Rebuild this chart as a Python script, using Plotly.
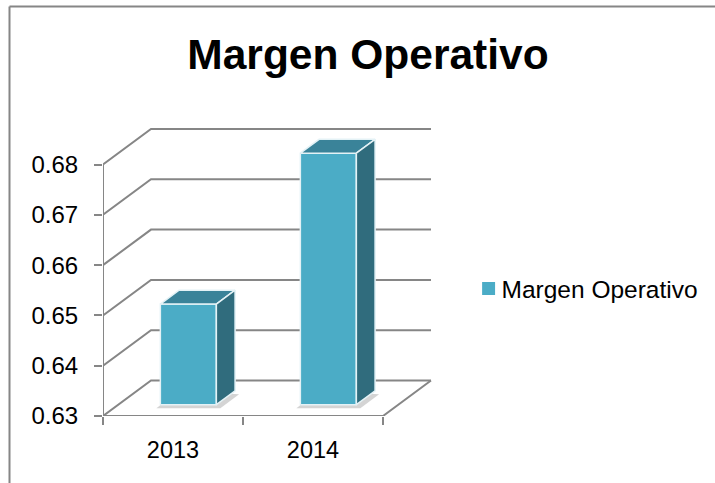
import plotly.graph_objects as go

categories = ["2013", "2014"]
values = [0.65, 0.68]
y_ticks = [0.63, 0.64, 0.65, 0.66, 0.67, 0.68]
series_name = "Margen Operativo"

# pixel geometry of the oblique projection
W, H = 715, 483
L, R, T, B = 103, 440, 118, 416
PX_CAT = 140.0
PX_UNIT = 5030.0
WALL_DX = 48.0 / PX_CAT
WALL_DY = 35.5 / PX_UNIT
FLOOR_Y = y_ticks[0]
X0, X1 = -0.5, -0.5 + (R - L) / PX_CAT
Y0, Y1 = FLOOR_Y, FLOOR_Y + (B - T) / PX_UNIT
BAR_W = 0.4
DEPTH_FRONT, DEPTH_BACK = 0.32, 0.71
GRID = "#868686"
FRONT, TOP, SIDE = "#4BACC6", "#3A8399", "#306C7D"
EDGE = "#E4F2F6"


def pr(cat, val, depth):
    """Oblique projection of a (category, value, depth 0..1) point."""
    return cat + WALL_DX * depth, val + WALL_DY * depth


def poly(points):
    xy = [pr(*p) for p in points]
    xy.append(xy[0])
    return [p[0] for p in xy], [p[1] for p in xy]


fig = go.Figure()

# walls and floor on the main axes
gx, gy = [], []
n = len(categories)
for v in y_ticks:
    a, b, c = pr(-0.5, v, 0), pr(-0.5, v, 1), pr(n - 0.5, v, 1)
    gx += [a[0], b[0], c[0], None]
    gy += [a[1], b[1], c[1], None]
a, b, c, d = pr(-0.5, y_ticks[0], 0), pr(-0.5, y_ticks[-1], 0), pr(n - 0.5, FLOOR_Y, 0), pr(n - 0.5, FLOOR_Y, 1)
gx += [b[0], a[0], c[0], d[0]]
gy += [b[1], a[1], c[1], d[1]]
fig.add_trace(go.Scatter(x=gx, y=gy, mode="lines", line=dict(color=GRID, width=2),
                         showlegend=False, hoverinfo="skip", xaxis="x", yaxis="y"))

# soft floor shadows sit under the bars, on the main axes
S_X = 4.0 / PX_CAT
S_Y = 3.5 / PX_UNIT
for i in range(n):
    l, r = i - BAR_W / 2, i + BAR_W / 2
    sx, sy = poly([(l - S_X, FLOOR_Y - S_Y, DEPTH_FRONT), (r + S_X, FLOOR_Y - S_Y, DEPTH_FRONT),
                   (r + S_X, FLOOR_Y - S_Y, DEPTH_BACK), (l, FLOOR_Y, DEPTH_BACK)])
    fig.add_trace(go.Scatter(x=sx, y=sy, mode="lines", fill="toself", fillcolor="#D4D4D4",
                             line=dict(color="rgba(0,0,0,0)", width=0), showlegend=False,
                             hoverinfo="skip", xaxis="x", yaxis="y"))

# 3D bars on the overlay axes
fx, fy = pr(0, FLOOR_Y, DEPTH_FRONT)
fig.add_trace(go.Bar(x=[i + fx for i in range(n)], y=[v - FLOOR_Y for v in values], base=fy,
                     width=BAR_W, name=series_name, showlegend=True,
                     marker=dict(color=FRONT, line=dict(color=FRONT, width=0)),
                     xaxis="x2", yaxis="y2", hoverinfo="skip"))

for i, v in enumerate(values):
    l, r = i - BAR_W / 2, i + BAR_W / 2
    fxs, fys = poly([(l, FLOOR_Y, DEPTH_FRONT), (r, FLOOR_Y, DEPTH_FRONT), (r, v, DEPTH_FRONT), (l, v, DEPTH_FRONT)])
    fig.add_trace(go.Scatter(x=fxs, y=fys, mode="lines", line=dict(color=EDGE, width=1.5),
                             showlegend=False, hoverinfo="skip", xaxis="x2", yaxis="y2"))
    tx, ty = poly([(l, v, DEPTH_FRONT), (r, v, DEPTH_FRONT), (r, v, DEPTH_BACK), (l, v, DEPTH_BACK)])
    fig.add_trace(go.Scatter(x=tx, y=ty, mode="lines", fill="toself", fillcolor=TOP,
                             line=dict(color=EDGE, width=1.5), showlegend=False,
                             hoverinfo="skip", xaxis="x2", yaxis="y2"))
    sx, sy = poly([(r, v, DEPTH_FRONT), (r, v, DEPTH_BACK), (r, FLOOR_Y, DEPTH_BACK), (r, FLOOR_Y, DEPTH_FRONT)])
    fig.add_trace(go.Scatter(x=sx, y=sy, mode="lines", fill="toself", fillcolor=SIDE,
                             line=dict(color=EDGE, width=1.5), showlegend=False,
                             hoverinfo="skip", xaxis="x2", yaxis="y2"))

FONT = "Liberation Sans, Arial, sans-serif"
fig.update_layout(
    width=W, height=H,
    autosize=False,
    paper_bgcolor="white", plot_bgcolor="rgba(0,0,0,0)",
    margin=dict(l=L, r=W - R, t=T, b=H - B, pad=0),
    font=dict(family=FONT, color="black"),
    title=dict(text="Margen Operativo", x=368 / W, xanchor="center", y=1 - 54.5 / H, yanchor="middle",
               xref="container", yref="container", font=dict(size=42.5, family=FONT, color="black", weight="bold")),
    xaxis=dict(range=[X0, X1], tickmode="array", tickvals=[i - 0.5 for i in range(n + 1)],
               ticktext=[""] * (n + 1), ticks="outside", ticklen=8, tickwidth=2, tickcolor=GRID,
               showgrid=False, zeroline=False, showline=False),
    yaxis=dict(range=[Y0, Y1], tickmode="array", tickvals=y_ticks,
               ticktext=[f"{v:.2f}" for v in y_ticks], ticks="outside", ticklen=8, tickwidth=2,
               tickcolor=GRID, showgrid=False, zeroline=False, showline=False, ticklabelstandoff=11,
               tickfont=dict(size=24, family=FONT, color="black")),
    xaxis2=dict(range=[X0, X1], overlaying="x", anchor="y2", side="bottom", tickmode="array",
                tickvals=list(range(n)), ticktext=categories, ticks="", showgrid=False, zeroline=False,
                showline=False, ticklabelstandoff=17,
                tickfont=dict(size=23.5, family=FONT, color="black")),
    yaxis2=dict(range=[Y0, Y1], overlaying="y", anchor="x2", visible=False),
    showlegend=True,
    legend=dict(xref="container", yref="container", x=461.5 / W, y=1 - 288.5 / H,
                xanchor="left", yanchor="middle",
                bgcolor="rgba(0,0,0,0)", font=dict(size=24.5, family=FONT, color="black")),
    shapes=[
        dict(type="line", xref="paper", yref="paper", x0=(9.5 - L) / (R - L), x1=(W + 5 - L) / (R - L),
             y0=(B - 6.5) / (B - T), y1=(B - 6.5) / (B - T), line=dict(color=GRID, width=2)),
        dict(type="line", xref="paper", yref="paper", x0=(9.5 - L) / (R - L), x1=(9.5 - L) / (R - L),
             y0=(B - 6.5) / (B - T), y1=(B - H - 5) / (B - T), line=dict(color=GRID, width=2)),
    ],
)

fig.write_html(
    "out.html", config={"displayModeBar": False},
    post_script=(
        "document.body.style.margin='0';document.body.style.overflow='hidden';"
        "document.querySelectorAll('.legend .legendpoints').forEach("
        "function(e){e.setAttribute('transform','translate(5.5,0) scale(1.08)');});"
    ),
)
